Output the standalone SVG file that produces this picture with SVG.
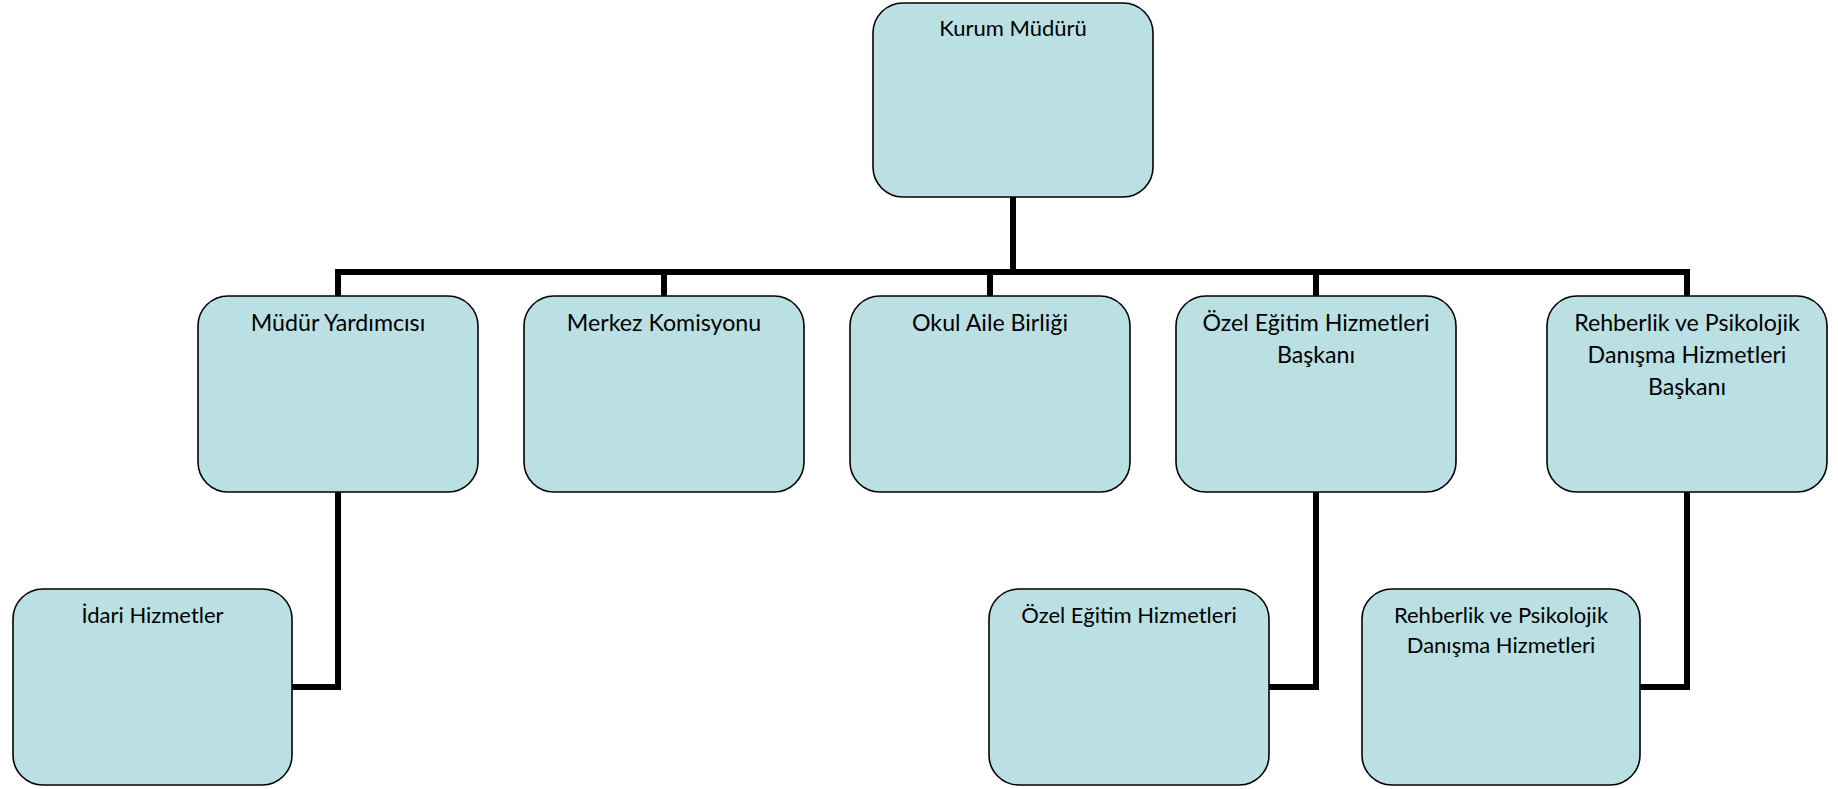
<svg xmlns="http://www.w3.org/2000/svg" width="1838" height="789" viewBox="0 0 1838 789">
<style>
.box{fill:#BBE0E3;stroke:#000;stroke-width:1.6}
.lbl{font-family:Lato,"Open Sans","Liberation Sans",sans-serif;font-size:22px;fill:#000;text-anchor:middle}
.l2{font-size:23.2px}
.conn{fill:none;stroke:#000;stroke-width:6;stroke-linejoin:miter}
</style>
<rect width="1838" height="789" fill="#fff"/>
<g id="connectors">
<path class="conn" d="M1013 197 V272"/>
<path class="conn" d="M338 296 V272 H1687 V296"/>
<path class="conn" d="M664 272 V296"/>
<path class="conn" d="M990 272 V296"/>
<path class="conn" d="M1316 272 V296"/>
<path class="conn" d="M338 492 V687 H292"/>
<path class="conn" d="M1316 492 V687 H1269"/>
<path class="conn" d="M1687 492 V687 H1640"/>
</g>
<g id="kurum-muduru">
<rect class="box" x="873" y="3" width="280" height="194" rx="30"/>
<text class="lbl" x="1013" y="36">Kurum Müdürü</text>
</g>
<g id="mudur-yardimcisi">
<rect class="box" x="198" y="296" width="280" height="196" rx="30"/>
<text class="lbl l2" x="338" y="331">Müdür Yardımcısı</text>
</g>
<g id="merkez-komisyonu">
<rect class="box" x="524" y="296" width="280" height="196" rx="30"/>
<text class="lbl l2" x="664" y="331">Merkez Komisyonu</text>
</g>
<g id="okul-aile-birligi">
<rect class="box" x="850" y="296" width="280" height="196" rx="30"/>
<text class="lbl l2" x="990" y="331">Okul Aile Birliği</text>
</g>
<g id="ozel-egitim-baskani">
<rect class="box" x="1176" y="296" width="280" height="196" rx="30"/>
<text class="lbl l2" x="1316" y="331">Özel Eğitim Hizmetleri</text>
<text class="lbl l2" x="1316" y="363">Başkanı</text>
</g>
<g id="rehberlik-baskani">
<rect class="box" x="1547" y="296" width="280" height="196" rx="30"/>
<text class="lbl l2" x="1687" y="331">Rehberlik ve Psikolojik</text>
<text class="lbl l2" x="1687" y="363">Danışma Hizmetleri</text>
<text class="lbl l2" x="1687" y="395">Başkanı</text>
</g>
<g id="idari-hizmetler">
<rect class="box" x="13" y="589" width="279" height="196" rx="30"/>
<text class="lbl" x="152.5" y="623">İdari Hizmetler</text>
</g>
<g id="ozel-egitim-hizmetleri">
<rect class="box" x="989" y="589" width="280" height="196" rx="30"/>
<text class="lbl" x="1129" y="623">Özel Eğitim Hizmetleri</text>
</g>
<g id="rehberlik-hizmetleri">
<rect class="box" x="1362" y="589" width="278" height="196" rx="30"/>
<text class="lbl" x="1501" y="623">Rehberlik ve Psikolojik</text>
<text class="lbl" x="1501" y="653">Danışma Hizmetleri</text>
</g>
</svg>
